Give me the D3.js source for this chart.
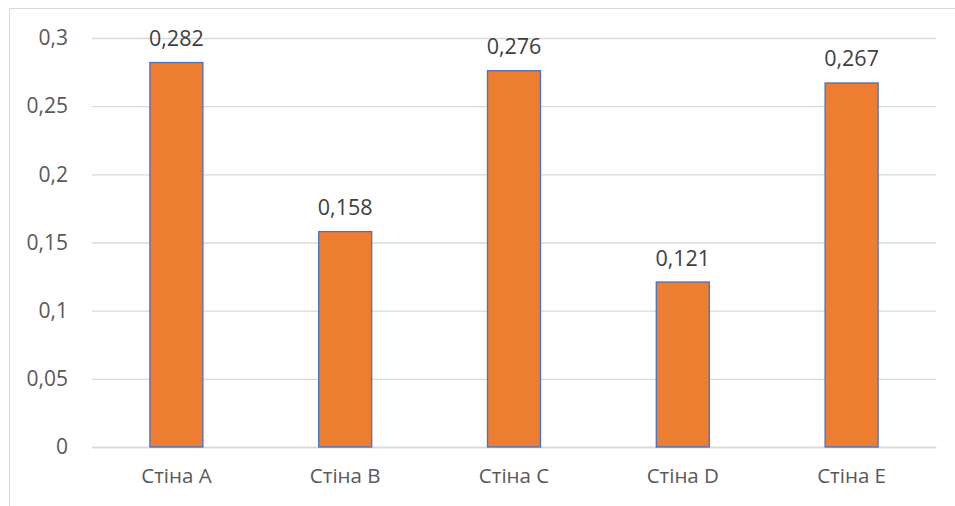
<!DOCTYPE html>
<html><head><meta charset="utf-8">
<script src="https://cdn.jsdelivr.net/npm/d3@7"></script>
<style>html,body{margin:0;padding:0;background:#fff;overflow:hidden}</style>
</head><body>
<svg id="c" width="955" height="506"></svg>
<script>
const categories = ["Стіна A", "Стіна B", "Стіна C", "Стіна D", "Стіна E"];
const values = [0.282, 0.158, 0.276, 0.121, 0.267];
const yTicks = [0, 0.05, 0.1, 0.15, 0.2, 0.25, 0.3];
const yTickLabels = ["0", "0,05", "0,1", "0,15", "0,2", "0,25", "0,3"];

const svg = d3.select("#c");
const font = "'Open Sans', sans-serif";
// outer chart border (clipped by window)
svg.append("rect").attr("x", 9.5).attr("y", 8.5).attr("width", 1000).attr("height", 600)
  .attr("fill", "#fff").attr("stroke", "#D9D9D9").attr("stroke-width", 1);

const x = d3.scaleBand().domain(categories).range([92, 936]).paddingInner(0.686).paddingOuter(0.343);
const y = d3.scaleLinear().domain([0, 0.3]).range([447, 38]);

const yAxis = d3.axisLeft(y).tickValues(yTicks).tickSize(-(936 - 92))
  .tickFormat((d, i) => yTickLabels[i]).tickPadding(24);
const gy = svg.append("g").attr("transform", "translate(92,0)").call(yAxis);
gy.select(".domain").remove();
gy.selectAll(".tick line").attr("stroke", "#D9D9D9").attr("stroke-width", 1.3);
gy.selectAll(".tick text").attr("fill", "#595959").style("font-family", font).style("font-size", "21px");

const xAxis = d3.axisBottom(x).tickSize(0).tickPadding(21);
const gx = svg.append("g").attr("transform", "translate(0,447)").call(xAxis);
gx.select(".domain").attr("stroke", "#D9D9D9").attr("stroke-width", 1.3);
gx.selectAll(".tick text").attr("fill", "#595959").style("font-family", font).style("font-size", "20.5px");

svg.append("g").selectAll("rect").data(values).join("rect")
  .attr("x", (d, i) => x(categories[i]))
  .attr("y", d => y(d))
  .attr("width", x.bandwidth())
  .attr("height", d => y(0) - y(d))
  .attr("fill", "#ED7D31").attr("stroke", "#4472C4").attr("stroke-width", 1.3);

svg.append("g").selectAll("text").data(values).join("text")
  .attr("x", (d, i) => x(categories[i]) + x.bandwidth() / 2)
  .attr("y", d => y(d) - 16.5)
  .attr("text-anchor", "middle")
  .attr("fill", "#404040").style("font-family", font).style("font-size", "21.5px")
  .text(d => String(d).replace(".", ","));
</script>
</body></html>
